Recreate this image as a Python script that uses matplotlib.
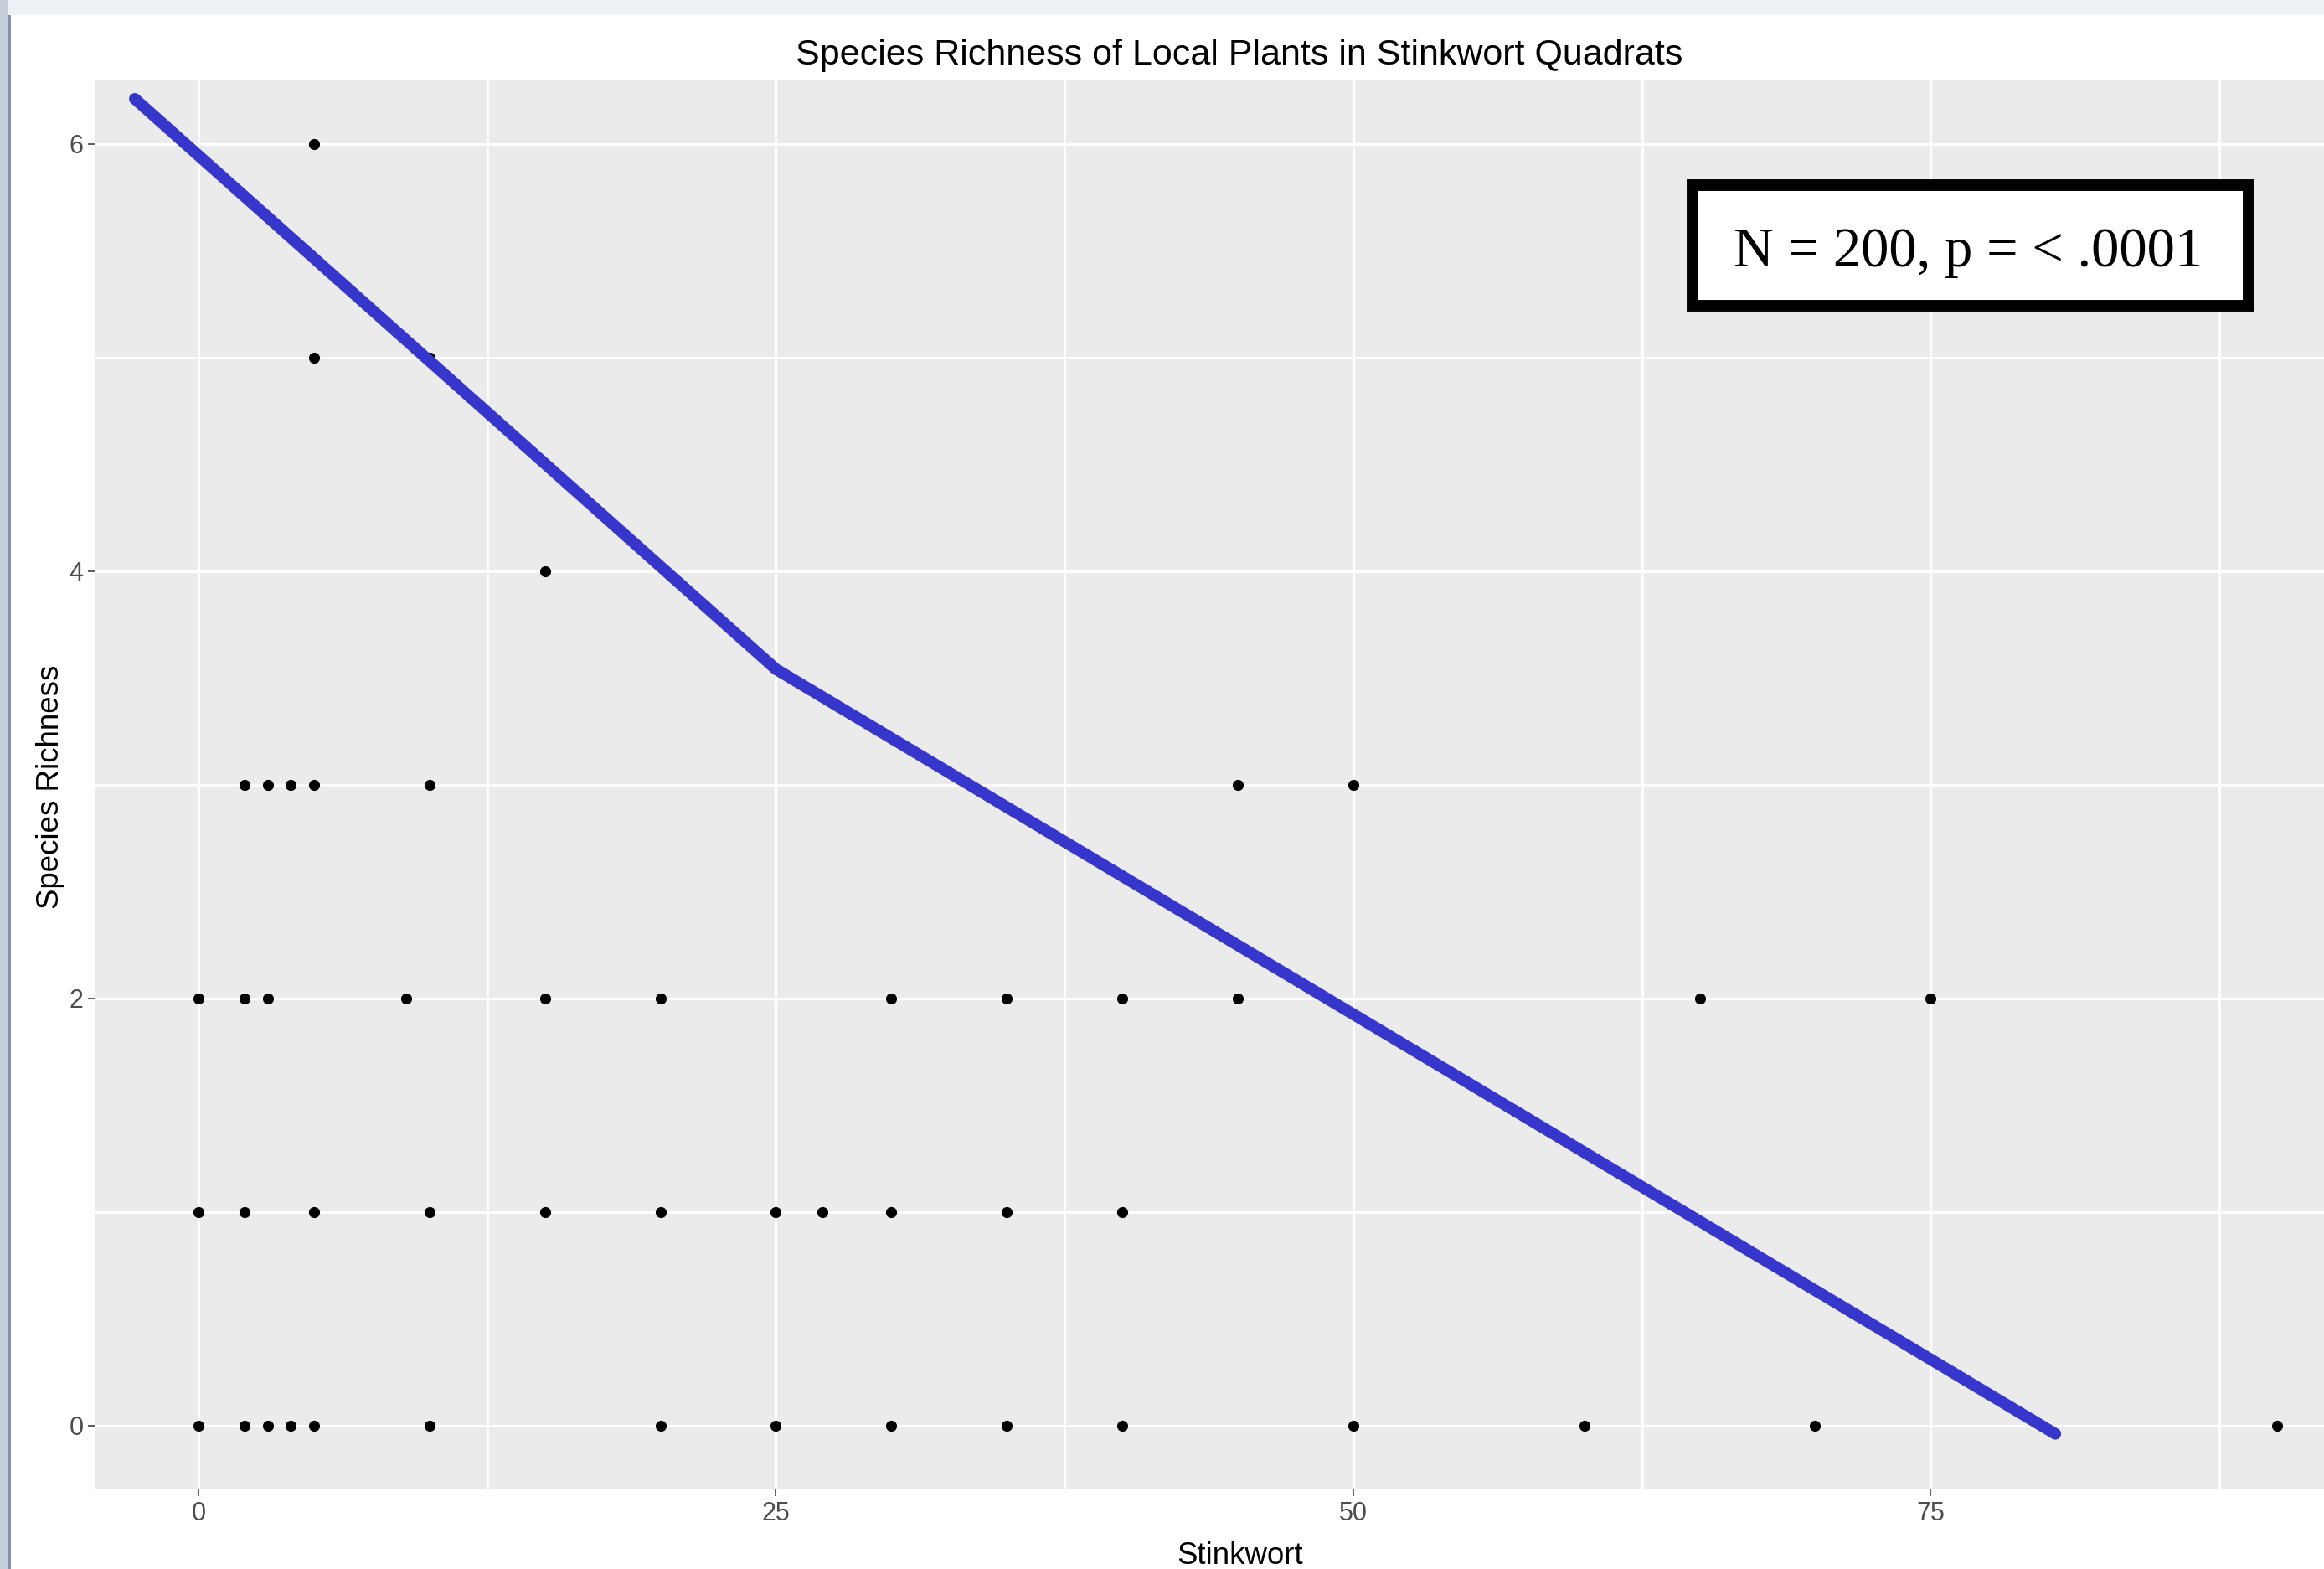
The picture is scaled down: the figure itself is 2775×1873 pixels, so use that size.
import matplotlib
matplotlib.use("Agg")
import matplotlib.pyplot as plt
from matplotlib.patches import Rectangle

# ---- data ----
title = "Species Richness of Local Plants in Stinkwort Quadrats"
x_label = "Stinkwort"
y_label = "Species Richness"
annotation = "N = 200, p = < .0001"

stinkwort = [5,
             5, 10,
             15,
             2, 3, 4, 5, 10, 45, 50,
             0, 2, 3, 9, 15, 20, 30, 35, 40, 45, 65, 75,
             0, 2, 5, 10, 15, 20, 25, 27, 30, 35, 40,
             0, 2, 3, 4, 5, 10, 20, 25, 30, 35, 40, 50, 60, 70, 90]
richness = [6,
            5, 5,
            4,
            3, 3, 3, 3, 3, 3, 3,
            2, 2, 2, 2, 2, 2, 2, 2, 2, 2, 2, 2,
            1, 1, 1, 1, 1, 1, 1, 1, 1, 1, 1,
            0, 0, 0, 0, 0, 0, 0, 0, 0, 0, 0, 0, 0, 0, 0]

trend_x = [-2.76, 25.0, 80.4]
trend_y = [6.21, 3.54, -0.04]

x_major = [0, 25, 50, 75]
x_minor = [12.5, 37.5, 62.5, 87.5]
y_major = [0, 2, 4, 6]
y_minor = [1, 3, 5]

W, H = 2775, 1873
fig = plt.figure(figsize=(W / 100, H / 100), dpi=100)
fig.patch.set_facecolor("white")

# window chrome (screenshot frame)
fig.patches.append(Rectangle((0, 1 - 18 / H), 1, 18 / H, transform=fig.transFigure,
                             facecolor="#eef1f6", edgecolor="none", zorder=0))
fig.patches.append(Rectangle((0, 0), 10 / W, 1, transform=fig.transFigure,
                             facecolor="#c6cedb", edgecolor="none", zorder=0))
fig.patches.append(Rectangle((10 / W, 0), 3 / W, 1 - 18 / H, transform=fig.transFigure,
                             facecolor="#8390b0", edgecolor="none", zorder=0))

# axes: panel extends beyond right edge (screenshot cropped)
left_px, right_px, top_px, bottom_px = 113, 2843, 95, 1778
ax = fig.add_axes([left_px / W, 1 - bottom_px / H, (right_px - left_px) / W, (bottom_px - top_px) / H])
ax.set_facecolor("#EBEBEB")
ax.set_xlim(-4.5, 94.5)
ax.set_ylim(-0.3, 6.3)
for s in ax.spines.values():
    s.set_visible(False)

ax.set_xticks(x_major)
ax.set_xticks(x_minor, minor=True)
ax.set_yticks(y_major)
ax.set_yticks(y_minor, minor=True)
ax.set_xticklabels([str(v) for v in x_major])
ax.set_yticklabels([str(v) for v in y_major])
ax.grid(which="major", color="white", linewidth=2.3)
ax.grid(which="minor", color="white", linewidth=2.0)
ax.set_axisbelow(True)
ax.tick_params(which="major", direction="out", length=5.8, width=1.1, color="#333333",
               labelsize=22, labelcolor="#4D4D4D")
ax.tick_params(axis="x", which="major", pad=4)
ax.tick_params(axis="y", which="major", pad=4)
ax.tick_params(which="minor", length=0)
for lab in ax.get_xticklabels() + ax.get_yticklabels():
    lab.set_family(["Liberation Sans", "DejaVu Sans"])

ax.scatter(stinkwort, richness, s=90, color="black", zorder=3, linewidths=0)
ax.plot(trend_x, trend_y, color="#3636CC", linewidth=10, solid_capstyle="round",
        solid_joinstyle="round", zorder=4)

sans = ["Liberation Sans", "DejaVu Sans"]
fig.text(1480 / W, 1 - 77 / H, title, ha="center", va="baseline", fontsize=31,
         family=sans, color="black")
fig.text(1481 / W, 1 - 1867 / H, x_label, ha="center", va="baseline", fontsize=26.4,
         family=sans, color="black")
fig.text(70 / W, 1 - 939 / H, y_label, ha="center", va="baseline", rotation=90,
         rotation_mode="anchor", fontsize=26.4, family=sans, color="black")

# annotation box
bx0, bx1, by0, by1 = 2021, 2685, 221, 365
fig.patches.append(Rectangle((bx0 / W, 1 - by1 / H), (bx1 - bx0) / W, (by1 - by0) / H,
                             transform=fig.transFigure, facecolor="white",
                             edgecolor="black", linewidth=10, zorder=5))
fig.text(2350 / W, 1 - 318 / H, annotation, ha="center", va="baseline", fontsize=48,
         family=["Liberation Serif", "DejaVu Serif"], color="black", zorder=6)

fig.savefig("out.png", dpi=100)
